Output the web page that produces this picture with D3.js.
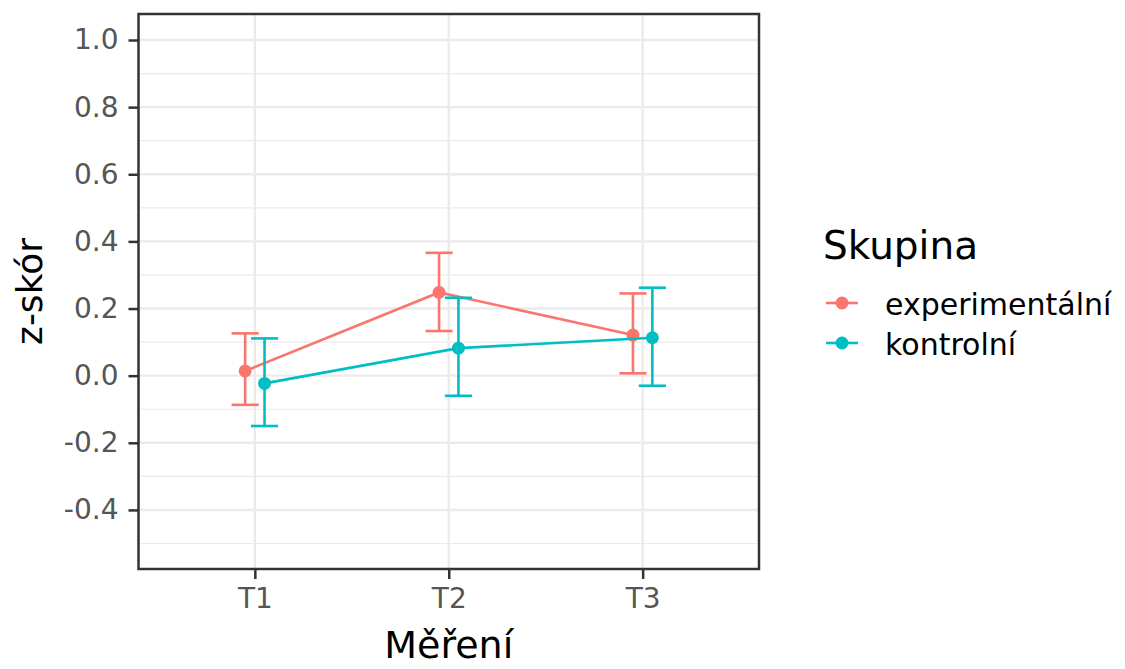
<!DOCTYPE html>
<html><head><meta charset="utf-8">
<script src="https://cdn.jsdelivr.net/npm/d3@7"></script>
<style>body{margin:0;background:#fff;} svg{display:block;}</style>
</head><body>
<svg id="c" width="1125" height="669"></svg>
<script>
const categories = ["T1","T2","T3"];
const groups = ["experimentální","kontrolní"];
const colors = ["#F8766D","#00BFC4"];
const expMean  = [0.014, 0.248, 0.121];
const expLow   = [-0.087, 0.133, 0.007];
const expHigh  = [0.126, 0.366, 0.245];
const ctrlMean = [-0.023, 0.082, 0.113];
const ctrlLow  = [-0.150, -0.060, -0.030];
const ctrlHigh = [0.111, 0.232, 0.262];
const yTicks = [-0.4,-0.2,0.0,0.2,0.4,0.6,0.8,1.0];
const yMinor = [-0.5,-0.3,-0.1,0.1,0.3,0.5,0.7,0.9];

const series = [
  {name: groups[0], color: colors[0], mean: expMean, low: expLow, high: expHigh, dodge: -0.05},
  {name: groups[1], color: colors[1], mean: ctrlMean, low: ctrlLow, high: ctrlHigh, dodge: 0.05}
];

const font = "DejaVu Sans";
const svg = d3.select("#c");
const L = 138.5, R = 759, T = 14, B = 569;
const x = d3.scaleLinear().domain([0.4, 3.6]).range([L, R]);
const y = d3.scaleLinear().domain([-0.576, 1.0775]).range([B, T]);
const xi = c => categories.indexOf(c) + 1;

// grid
const g = svg.append("g");
g.selectAll(".mn").data(yMinor).join("line")
  .attr("x1", L).attr("x2", R).attr("y1", d => y(d)).attr("y2", d => y(d))
  .attr("stroke", "#ebebeb").attr("stroke-width", 1.2);
g.selectAll(".mj").data(yTicks).join("line")
  .attr("x1", L).attr("x2", R).attr("y1", d => y(d)).attr("y2", d => y(d))
  .attr("stroke", "#ebebeb").attr("stroke-width", 2.4);
g.selectAll(".vx").data(categories).join("line")
  .attr("x1", d => x(xi(d))).attr("x2", d => x(xi(d))).attr("y1", T).attr("y2", B)
  .attr("stroke", "#ebebeb").attr("stroke-width", 2.4);

// series
const capHalf = 0.07;
series.forEach(s => {
  const pts = categories.map((c, i) => ({xv: xi(c) + s.dodge, m: s.mean[i], lo: s.low[i], hi: s.high[i]}));
  svg.append("path").datum(pts)
    .attr("d", d3.line().x(d => x(d.xv)).y(d => y(d.m)))
    .attr("fill", "none").attr("stroke", s.color).attr("stroke-width", 2.6);
  const eb = svg.append("g").attr("stroke", s.color).attr("stroke-width", 2.6).attr("fill", "none");
  pts.forEach(p => {
    eb.append("line").attr("x1", x(p.xv)).attr("x2", x(p.xv)).attr("y1", y(p.lo)).attr("y2", y(p.hi));
    eb.append("line").attr("x1", x(p.xv - capHalf)).attr("x2", x(p.xv + capHalf)).attr("y1", y(p.lo)).attr("y2", y(p.lo));
    eb.append("line").attr("x1", x(p.xv - capHalf)).attr("x2", x(p.xv + capHalf)).attr("y1", y(p.hi)).attr("y2", y(p.hi));
  });
  svg.append("g").selectAll("circle").data(pts).join("circle")
    .attr("cx", d => x(d.xv)).attr("cy", d => y(d.m)).attr("r", 6.5).attr("fill", s.color);
});

// panel border
svg.append("rect").attr("x", L).attr("y", T).attr("width", R - L).attr("height", B - T)
  .attr("fill", "none").attr("stroke", "#333333").attr("stroke-width", 2.5);

// axes
const yAxis = svg.append("g").attr("transform", `translate(${L},0)`)
  .call(d3.axisLeft(y).tickValues(yTicks).tickFormat(d3.format(".1f")).tickSize(10).tickPadding(10));
const xAxis = svg.append("g").attr("transform", `translate(0,${B})`)
  .call(d3.axisBottom(x).tickValues(categories.map(xi)).tickFormat(d => categories[d - 1]).tickSize(10).tickPadding(9));
[yAxis, xAxis].forEach(a => {
  a.select(".domain").remove();
  a.selectAll(".tick line").attr("stroke", "#333333").attr("stroke-width", 2.5);
  a.selectAll(".tick text").attr("fill", "#555555").style("font-family", font).style("font-size", "28px");
});
yAxis.selectAll(".tick text").text(d => d3.format(".1f")(d).replace("−", "-"));

// axis titles
svg.append("text").attr("x", (L + R) / 2).attr("y", 658).attr("text-anchor", "middle")
  .style("font-family", font).style("font-size", "38px").attr("fill", "#000").text("Měření");
svg.append("text").attr("transform", `translate(42,${(T + B) / 2}) rotate(-90)`).attr("text-anchor", "middle")
  .style("font-family", font).style("font-size", "36px").attr("fill", "#000").text("z-skór");

// legend
const lg = svg.append("g");
lg.append("text").attr("x", 823).attr("y", 259).style("font-family", font).style("font-size", "39px")
  .attr("fill", "#000").text("Skupina");
series.forEach((s, i) => {
  const ky = 303 + i * 40;
  lg.append("line").attr("x1", 826).attr("x2", 858).attr("y1", ky).attr("y2", ky)
    .attr("stroke", s.color).attr("stroke-width", 2.6);
  lg.append("circle").attr("cx", 842).attr("cy", ky).attr("r", 6.5).attr("fill", s.color);
  lg.append("text").attr("x", 885).attr("y", ky + 12).style("font-family", font).style("font-size", "30px")
    .attr("fill", "#000").text(s.name);
});
</script>
</body></html>
